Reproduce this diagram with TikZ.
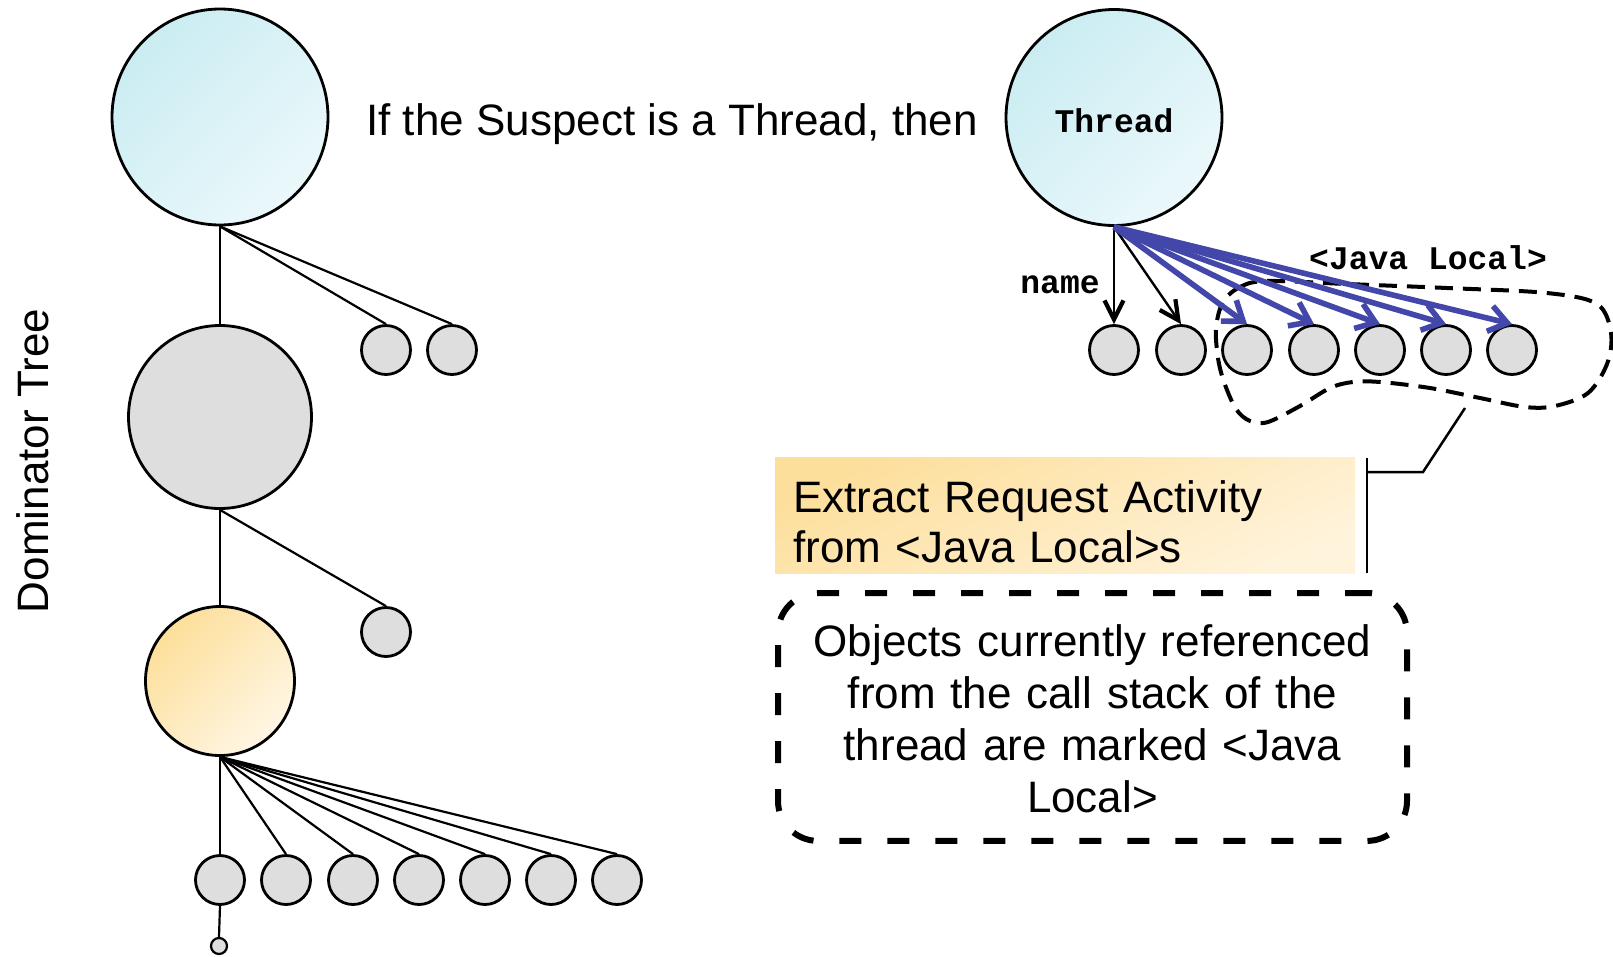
\documentclass[tikz,border=0pt]{standalone}
\usepackage{fontspec}
\setmainfont{Liberation Sans}
\newfontfamily\codefont{Liberation Mono}
\usetikzlibrary{arrows.meta}

\definecolor{objgrey}{HTML}{DEDEDE}
\definecolor{cyanA}{HTML}{CAEDF2}
\definecolor{cyanB}{HTML}{EBF8FB}
\definecolor{goldA}{HTML}{FDDF9B}
\definecolor{goldB}{HTML}{FFF6E4}
\definecolor{noteA}{HTML}{FDDF9C}
\definecolor{noteB}{HTML}{FFF3DB}
\definecolor{refblue}{HTML}{4347A9}

\tikzset{
  obj/.style={circle, draw=black, line width=2.8pt, fill=objgrey,
    minimum size=49pt, inner sep=0pt},
  bigobj/.style={obj, minimum size=#1},
  cyanobj/.style={top color=cyanA, bottom color=cyanB, shading angle=45},
  goldobj/.style={top color=goldA, bottom color=goldB, shading angle=45},
  notefill/.style={top color=noteA, bottom color=noteB, shading angle=25},
  link/.style={line width=2.2pt, black},
  blackref/.style={line width=2.4pt, black,
    -{Straight Barb[length=19pt, width=19pt, line width=4.2pt]}},
  blueref/.style={line width=5.6pt, refblue,
    -{Straight Barb[length=18pt, width=26pt]}},
  bigtext/.style={font=\fontsize{44}{52}\selectfont, inner sep=0pt},
  codetext/.style={font=\fontsize{33}{38}\selectfont\codefont\bfseries, inner sep=0pt},
}

\begin{document}
\begin{tikzpicture}[x=1pt, y=-1pt]
  \useasboundingbox (0,0) rectangle (1613,956);

  % ---- Dominator tree (left) ----
  \node[bigtext, rotate=90] (dtlabel) at (33,461) {Dominator Tree};

  \node[bigobj=216pt, cyanobj] (root) at (220,117) {};
  \node[obj] (r1) at (386,350) {};
  \node[obj] (r2) at (452,350) {};
  \node[bigobj=183pt] (mid) at (220,417) {};
  \node[obj] (m1) at (386,632) {};
  \node[bigobj=149pt, goldobj] (low) at (220,681) {};
  \foreach \i/\x in {1/220,2/286,3/353,4/419,5/485,6/551,7/617}
    \node[obj] (l\i) at (\x,880) {};
  \node[obj, minimum size=16pt, line width=2.2pt] (leaf) at (219,946) {};

  \draw[link] (root.south) -- (mid.north);
  \draw[link] (root.south) -- (r1.north);
  \draw[link] (root.south) -- (r2.north);
  \draw[link] (mid.south) -- (low.north);
  \draw[link] (mid.south) -- (m1.north);
  \foreach \i in {1,...,7}
    \draw[link] (low.south) -- (l\i.north);
  \draw[link] (l1.south) -- (leaf.north);

  % ---- Heading ----
  \node[bigtext, anchor=base] (heading) at (672,135) {If the Suspect is a Thread, then};

  % ---- Thread and its references (right) ----
  \node[bigobj=216pt, cyanobj, codetext, text height=29pt, text depth=0pt]
    (thread) at (1114,117.5) {Thread};

  % dashed outline round the <Java Local> objects
  \draw[black, line width=4pt, dash pattern=on 18pt off 10pt]
    plot[smooth cycle, tension=0.55] coordinates {
      (1223,302) (1240,287) (1267,281) (1347,284) (1447,288) (1547,293)
      (1597,304) (1611,333) (1607,364) (1588,393) (1555,406) (1525,407)
      (1480,398) (1430,388) (1380,382) (1353,382) (1330,388) (1300,406)
      (1268,422) (1250,421) (1236,409) (1224,382) (1218,358) (1216,328)};

  \foreach \i/\x in {1/1114,2/1181,3/1247,4/1314,5/1380,6/1446,7/1512}
    \node[obj] (t\i) at (\x,350) {};

  \draw[blackref] (thread.south) -- (t1.north);
  \draw[blackref] (thread.south) -- (t2.north);
  \foreach \i in {3,...,7}
    \draw[blueref] (thread.south) -- (t\i.north);

  \node[codetext, anchor=base] (namelbl) at (1060,293) {name};
  \node[codetext, anchor=base] (jllbl) at (1428,269) {<Java Local>};

  % ---- Note boxes ----
  \node[notefill, anchor=north west, inner xsep=18pt, inner ysep=0pt,
        text width=544pt, align=left, font=\fontsize{44}{50}\selectfont]
    (extract) at (775,457)
    {\rule{0pt}{55pt}Extract Request Activity\\from <Java Local>s\rule[-11pt]{0pt}{11pt}};

  \node[draw=black, line width=6pt, dash pattern=on 22pt off 26pt,
        rounded corners=40pt, anchor=north west, inner xsep=20pt, inner ysep=0pt,
        text width=589pt, align=center, font=\fontsize{44}{52.3}\selectfont]
    (javalocal) at (775,590)
    {\rule{0pt}{63pt}Objects currently referenced\\from the call stack of the\\
     thread are marked <Java\\Local>\rule[-28pt]{0pt}{28pt}};

  % callout joining the note to the dashed outline
  \coordinate (calloutTip) at (1465,408);
  \coordinate (calloutBend) at (1423,472);
  \coordinate (calloutFoot) at (1367,472);
  \coordinate (barTop) at (1367,458);
  \coordinate (barBottom) at (1367,573);
  \draw[link, line width=2.5pt] (calloutTip) -- (calloutBend) -- (calloutFoot);
  \draw[link, line width=2.5pt] (barTop) -- (barBottom);
\end{tikzpicture}
\end{document}
